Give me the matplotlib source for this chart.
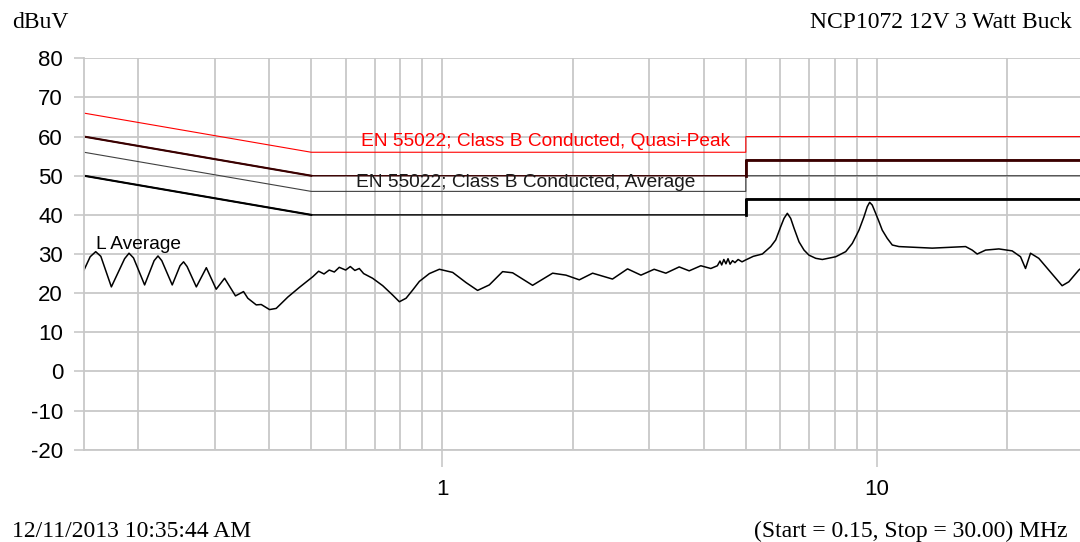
import matplotlib
matplotlib.use("Agg")
import matplotlib.pyplot as plt
from matplotlib.ticker import FixedLocator, NullFormatter

# EN 55022 Class B conducted limits (MHz, dBuV)
limit_freq = [0.15, 0.5, 5, 5, 30]
qp_limit = [66, 56, 56, 60, 60]
avg_limit = [56, 46, 46, 50, 50]
qp_margin = [60, 50, 50, 54, 54]
avg_margin = [50, 40, 40, 44, 44]

# L line, average detector
scan_freq = [0.150, 0.155, 0.1596, 0.164, 0.1734, 0.186, 0.1904, 0.195, 0.2068,
             0.2175, 0.2220, 0.2265, 0.2394, 0.2495, 0.2542, 0.259, 0.2720,
             0.2868, 0.3022, 0.3159, 0.3347, 0.3493, 0.3573, 0.3736, 0.3836, 0.4009,
             0.4153, 0.4417, 0.4699, 0.5042, 0.520, 0.535, 0.550, 0.565, 0.580, 0.600,
             0.615, 0.630, 0.645, 0.660, 0.6922, 0.7303, 0.7699, 0.7976, 0.8264, 0.8560,
             0.8867, 0.9350, 0.9858, 1.0578, 1.1355, 1.2071, 1.2844, 1.3782, 1.4533,
             1.6156, 1.7963, 1.9279, 2.0691, 2.2202, 2.4670, 2.6716, 2.8685, 3.0763,
             3.2730, 3.5127, 3.7036, 3.9391, 4.1534, 4.30, 4.36, 4.40, 4.45, 4.50,
             4.55, 4.60, 4.66, 4.72, 4.80, 4.90, 5.00, 5.20, 5.4576, 5.705, 5.858,
             6.0158, 6.121, 6.2299, 6.342, 6.4548, 6.6284, 6.806, 6.9888, 7.242, 7.4992,
             8.0501, 8.4875, 8.789, 8.9484, 9.106, 9.3494, 9.515, 9.6360, 9.770, 9.9472,
             10.123, 10.301, 10.578, 10.863, 11.255, 13.425, 16.020, 16.590, 17.035,
             17.809, 19.105, 20.502, 21.431, 22.007, 22.594, 23.608, 24.891, 26.717,
             27.681, 29.183, 30.0]
scan_level = [25.9, 29.3, 30.6, 29.4, 21.6, 28.8, 30.2, 29.0, 22.1,
              28.3, 29.5, 28.3, 22.1, 27.0, 28.0, 26.8, 21.6,
              26.5, 21.0, 23.8, 19.3, 20.4, 18.7, 17.0, 17.1, 15.8,
              16.1, 19.0, 21.5, 24.2, 25.6, 24.9, 25.9, 25.4, 26.6, 25.9,
              26.8, 25.8, 26.3, 25.0, 23.8, 21.9, 19.5, 17.8, 18.7, 20.8,
              23.0, 25.0, 26.1, 25.3, 22.7, 20.7, 22.1, 25.5, 25.2,
              22.0, 25.1, 24.6, 23.4, 25.1, 23.6, 26.2, 24.6, 26.1,
              25.1, 26.7, 25.7, 27.0, 26.3, 27.0, 28.2, 27.2, 28.6, 27.5,
              28.8, 27.4, 28.3, 27.8, 28.6, 28.0, 28.5, 29.4, 30.0, 31.9, 33.6,
              37.0, 39.1, 40.4, 39.1, 36.6, 33.1, 31.0, 29.7, 28.9, 28.6,
              29.3, 30.6, 32.7, 34.4, 36.1, 39.5, 42.1, 43.2, 42.5, 40.4,
              38.3, 36.1, 34.0, 32.3, 31.9, 31.5, 31.9, 31.0, 30.0,
              31.0, 31.3, 30.8, 29.3, 26.3, 30.2, 28.9, 25.9, 21.9,
              22.9, 25.9, 27.0]

y_ticks = list(range(-20, 90, 10))
x_major = [1, 10]
x_minor = [0.2, 0.3, 0.4, 0.5, 0.6, 0.7, 0.8, 0.9, 2, 3, 4, 5, 6, 7, 8, 9, 20]

grid_col = "#c8c8c8"
sans = "Liberation Sans"
serif = "Liberation Serif"

fig = plt.figure(figsize=(10.8, 5.42), dpi=100)
ax = fig.add_axes([84 / 1080, 0.1703, 1000 / 1080, 0.7221])

ax.plot(limit_freq, qp_limit, color="#ff0000", lw=0.8)
ax.plot(limit_freq, avg_limit, color="#404040", lw=0.8)
for vals, col in [(qp_margin, "#3a0000"), (avg_margin, "#000000")]:
    ax.plot(limit_freq, vals, color=col, lw=1.0)
    ax.plot(limit_freq[:2], vals[:2], color=col, lw=1.5)
    ax.plot(limit_freq[2:], vals[2:], color=col, lw=2.0)

ax.plot(scan_freq, scan_level, color="black", lw=1.1)

ax.set_xscale("log")
ax.set_xlim(0.15, 30)
ax.set_ylim(-20, 80)

ax.xaxis.set_major_locator(FixedLocator(x_major))
ax.xaxis.set_minor_locator(FixedLocator(x_minor))
ax.xaxis.set_minor_formatter(NullFormatter())
ax.set_xticklabels(["1", "10"], fontsize=16, family=sans)
ax.set_yticks(y_ticks)
ax.set_yticklabels([str(v) for v in y_ticks], fontsize=16, family=sans)

ax.grid(True, which="both", color=grid_col, lw=1.3)
ax.tick_params(axis="y", length=7.2, width=1.2, color=grid_col, pad=7.9)
ax.tick_params(axis="x", which="major", length=12.2, width=1.2, color=grid_col, pad=9)
ax.tick_params(axis="x", which="minor", length=0)
for side in ["top", "right"]:
    ax.spines[side].set_visible(False)
for side in ["left", "bottom"]:
    ax.spines[side].set_color(grid_col)
    ax.spines[side].set_linewidth(1.3)
ax.set_axisbelow(True)

ax.text(0.651, 57.7, "EN 55022; Class B Conducted, Quasi-Peak", color="#ff0000",
        fontsize=13.8, family=sans, va="baseline")
ax.text(0.634, 47.1, "EN 55022; Class B Conducted, Average", color="#1a1a1a",
        fontsize=13.8, family=sans, va="baseline")
ax.text(0.1596, 31.3, "L Average", color="black", fontsize=13.8, family=sans,
        va="baseline")

fig.text(12 / 1080, 1 - 28 / 542, "dBuV", fontsize=17, family=serif, va="baseline")
fig.text(1072 / 1080, 1 - 28 / 542, "NCP1072 12V 3 Watt Buck", fontsize=17,
         family=serif, va="baseline", ha="right")
fig.text(12 / 1080, 1 - 537 / 542, "12/11/2013 10:35:44 AM", fontsize=17,
         family=serif, va="baseline")
fig.text(1068 / 1080, 1 - 537 / 542, "(Start = 0.15, Stop = 30.00) MHz", fontsize=17,
         family=serif, va="baseline", ha="right")

fig.savefig("out.png", dpi=100, facecolor="white")
